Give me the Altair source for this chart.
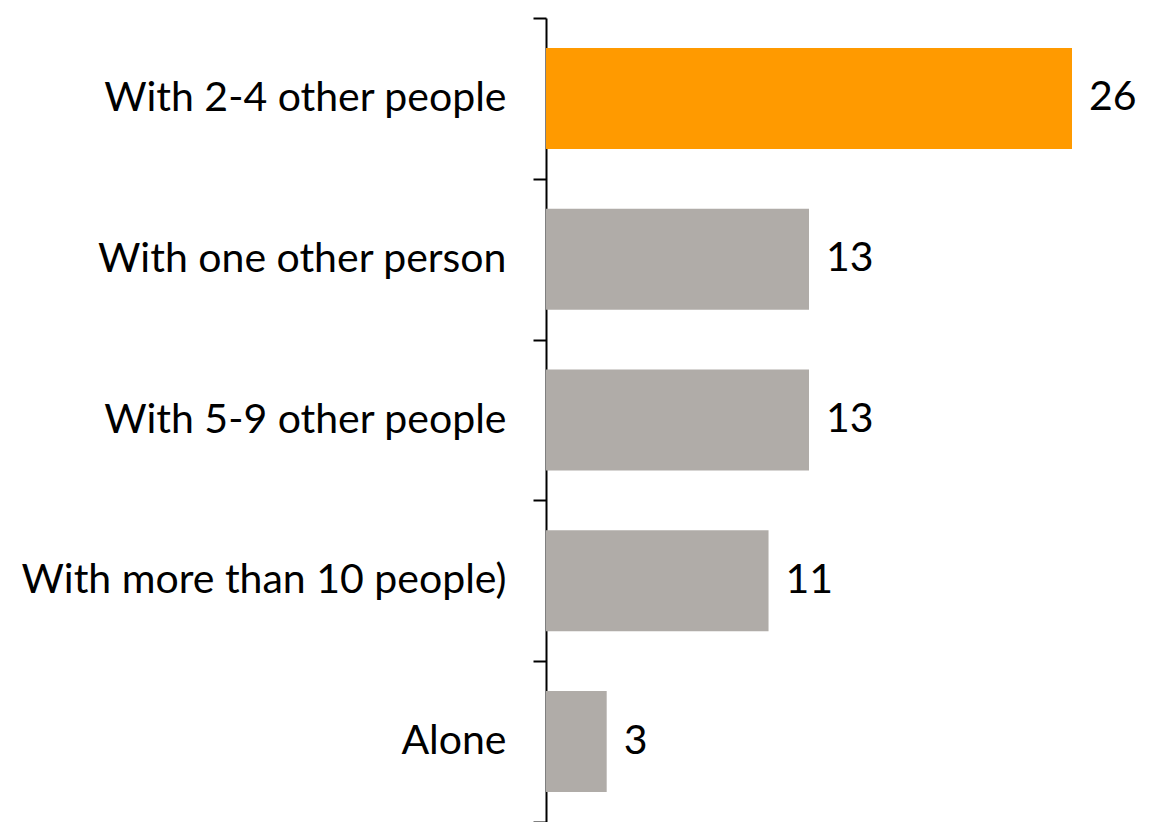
import altair as alt
import pandas as pd

categories = ["With 2-4 other people", "With one other person", "With 5-9 other people",
              "With more than 10 people)", "Alone"]
values = [26, 13, 13, 11, 3]
highlight = ["yes", "no", "no", "no", "no"]

df = pd.DataFrame({"category": categories, "value": values, "highlight": highlight})

FONT = "Lato"
FS = 41

y = alt.Y("category:N", sort=categories,
          scale=alt.Scale(paddingInner=0, paddingOuter=0),
          axis=alt.Axis(title=None, tickBand="extent", tickSize=13, tickWidth=2,
                        domainWidth=2, domainColor="black", tickColor="black",
                        labelFontSize=FS, labelFont=FONT, labelColor="black",
                        labelPadding=27, grid=False, labelLimit=600))
x = alt.X("value:Q", scale=alt.Scale(domain=[0, 26], nice=False), axis=None)

bars = alt.Chart(df).mark_bar(size=101).encode(
    y=y, x=x,
    color=alt.Color("highlight:N",
                    scale=alt.Scale(domain=["yes", "no"], range=["#FF9A00", "#B0ACA8"]),
                    legend=None),
)
text = alt.Chart(df).mark_text(align="left", baseline="middle", dx=17, font=FONT,
                               fontSize=FS, color="black").encode(
    y=y, x=x, text="value:Q")

chart = alt.layer(bars, text).properties(
    width=526, height=804,
    autosize=alt.AutoSizeParams(type="none"),
    padding={"left": 546, "top": 18, "right": 94, "bottom": 0},
).configure_view(stroke=None)

chart.save("out.html", embed_options={"renderer": "svg", "actions": False})
